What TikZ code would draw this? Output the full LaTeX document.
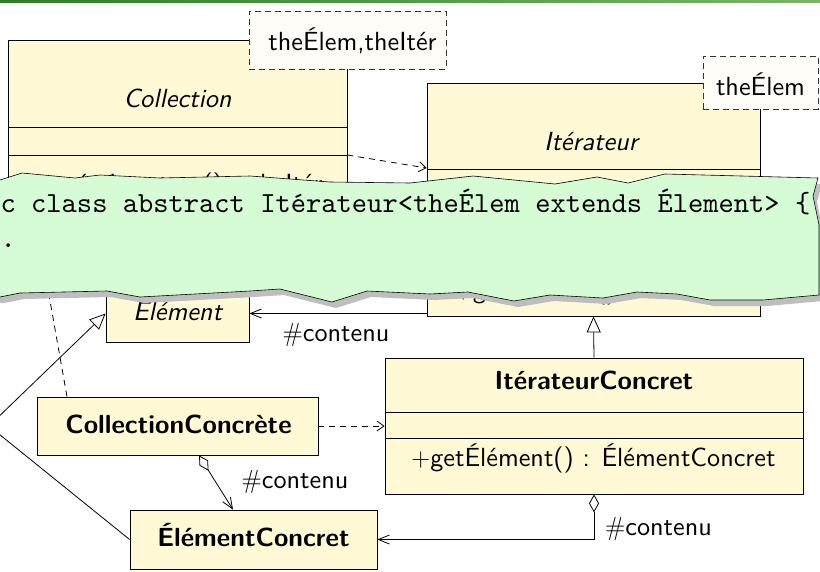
\RequirePackage{fix-cm}
\documentclass[tikz,border=0pt]{standalone}
\usepackage{fontspec}
\setsansfont{lmsans10-regular.otf}[BoldFont=lmsans10-bold.otf,ItalicFont=lmsans10-oblique.otf,BoldItalicFont=lmsans10-boldoblique.otf]
\setmonofont{lmmono10-regular.otf}
\usetikzlibrary{arrows.meta}
\definecolor{umlfill}{RGB}{255,249,214}
\definecolor{paperfill}{RGB}{214,252,214}
\definecolor{shadowgray}{RGB}{190,190,190}
\definecolor{tplfill}{RGB}{255,253,248}
\definecolor{topdark}{RGB}{45,125,40}
\definecolor{toplight}{RGB}{125,180,105}
\newcommand{\sfsz}{\sffamily\fontsize{26.2}{31}\selectfont}
\newcommand{\ttsz}{\ttfamily\fontsize{29.1}{35}\selectfont}
\newcommand{\paperpoly}[1]{\path[#1] (-90,180) -- (0,180) -- (22,173) -- (75,178) -- (100,175) -- (160,178) -- (250,176) -- (330,182) -- (410,183) -- (473,176) -- (555,184) -- (597,177) -- (628,183) -- (665,174) -- (818,178) -- (813,196) -- (819,225) -- (819,295) -- (763,300) -- (710,300) -- (677,294) -- (637,292) -- (603,298) -- (550,295) -- (514,301) -- (468,292) -- (430,294) -- (367,291) -- (332,302) -- (280,289) -- (250,291) -- (140,297) -- (107,291) -- (20,293) -- (0,297) -- (-90,297) -- cycle;}
\begin{document}
\begin{tikzpicture}[x=1pt,y=-1pt,
  umlbox/.style={draw=black,line width=0.8pt,fill=umlfill,inner sep=0pt},
  tplbox/.style={draw=black!80,line width=0.8pt,dash pattern=on 6pt off 4pt,fill=tplfill,inner sep=0pt},
  txt/.style={font=\sfsz,inner sep=0pt,anchor=base},
  ttl/.style={font=\ttsz,inner sep=0pt,anchor=base west},
  conn/.style={line width=0.8pt},
  compline/.style={line width=0.8pt},
  dep/.style={conn,dash pattern=on 6pt off 5pt,-{Straight Barb[length=7pt,width=10pt]}},
  assoc/.style={conn,-{Straight Barb[length=11pt,width=9pt]}},
  gen/.style={conn,-{Triangle[length=16pt,width=14pt,fill=white]}},
  realz/.style={conn,dash pattern=on 6pt off 5pt,-{Triangle[length=16pt,width=14pt,fill=white]}},
  aggr/.style={conn,{Diamond[length=18pt,width=10pt,fill=white]}-{Straight Barb[length=11pt,width=9pt]}}
]
\useasboundingbox (0,0) rectangle (820,571);
\shade[left color=topdark,right color=toplight] (0,0) rectangle (820,2);

% class boxes
\node[umlbox,minimum width=339pt,minimum height=230pt] (coll) at (177.5,155) {};
\draw[compline] (coll.west |- 0,127) -- (coll.east |- 0,127);
\draw[compline] (coll.west |- 0,155) -- (coll.east |- 0,155);
\node[txt,font=\sfsz\itshape] (collname) at (177.5,107) {Collection};
\node[txt] (collop) at (180,192) {$+$créerIterateur() : theItér};

\node[umlbox,minimum width=333pt,minimum height=233pt] (iter) at (593.5,199.5) {};
\draw[compline] (iter.west |- 0,169) -- (iter.east |- 0,169);
\draw[compline] (iter.west |- 0,200) -- (iter.east |- 0,200);
\node[txt,font=\sfsz\itshape] (itername) at (591,150) {Itérateur};
\node[txt] (iterop) at (593.5,298) {$+$getÉlément() : theÉlem};

\node[umlbox,minimum width=143pt,minimum height=57pt] (elem) at (177.5,313.5) {};
\node[txt,font=\sfsz\itshape] (elemname) at (177.5,320) {Élément};

\node[umlbox,minimum width=418pt,minimum height=136pt] (itc) at (594,426) {};
\draw[compline] (itc.west |- 0,412) -- (itc.east |- 0,412);
\draw[compline] (itc.west |- 0,438) -- (itc.east |- 0,438);
\node[txt,font=\sfsz\bfseries] (itcname) at (594,389) {ItérateurConcret};
\node[txt] (itcop) at (593.5,466) {$+$getÉlément() : ÉlémentConcret};

\node[umlbox,minimum width=281pt,minimum height=58pt] (cc) at (177.5,426) {};
\node[txt,font=\sfsz\bfseries] (ccname) at (178.5,433) {CollectionConcrète};

\node[umlbox,minimum width=247pt,minimum height=59pt] (ec) at (253.5,539.5) {};
\node[txt,font=\sfsz\bfseries] (ecname) at (253.5,546) {ÉlémentConcret};

% template parameters
\node[tplbox,minimum width=197pt,minimum height=58pt] (colltpl) at (347.5,40) {};
\node[txt] (colltpltext) at (352.5,50) {theÉlem,theItér};
\node[tplbox,minimum width=115pt,minimum height=53pt] (itertpl) at (760.5,82.5) {};
\node[txt] (itertpltext) at (760.5,95) {theÉlem};

% connectors
\coordinate (collout) at (coll.east |- 0,155);
\coordinate (iterin) at (iter.west |- 0,168);
\draw[dep] (collout) -- (iterin);
\draw[assoc] (iter.west |- elem.east) -- (elem.east);
\node[txt] (lbl1) at (336,341) {$\#$contenu};
\draw[gen] (itc.north) -- (iter.south);
\draw[dep] (cc.east) -- (cc.east -| itc.west);
\coordinate (ccdia) at (cc.south -| 199,0);
\coordinate (ectop) at (ec.north -| 233,0);
\draw[aggr] (ccdia) -- (ectop);
\node[txt] (lbl2) at (295,488) {$\#$contenu};
\draw[aggr] (itc.south) |- (ec.east);
\node[txt] (lbl3) at (658.5,535) {$\#$contenu};
\coordinate (bend) at (-11,426);
\draw[gen] (ec.west) -- (bend) -- (elem.west);
\coordinate (ccup) at (cc.north -| 67,0);
\coordinate (collbot) at (coll.south -| 44.6,0);
\draw[realz] (ccup) -- (collbot);

% torn paper note
\paperpoly{fill=shadowgray,shift={(4,6)}}
\paperpoly{fill=paperfill,draw=black,line width=0.6pt}
\node[ttl] (code1) at (-76,212) {public class abstract Itérateur<theÉlem extends Élement> \{};
\node[ttl] (code2) at (-76,247) {\phantom{pub}...};
\end{tikzpicture}
\end{document}
